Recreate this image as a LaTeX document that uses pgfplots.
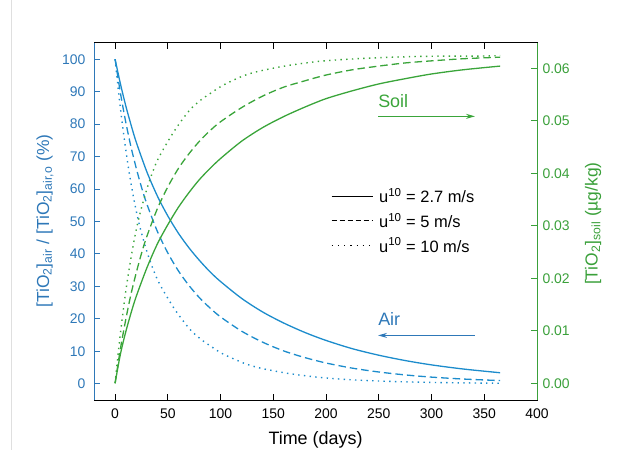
\documentclass[border=0pt]{standalone}
\usepackage{fontspec}
\setmainfont{Liberation Sans}
\usepackage{pgfplots}
\pgfplotsset{compat=1.18}
\usetikzlibrary{arrows.meta}
\definecolor{lblue}{RGB}{28,140,204}
\definecolor{ablue}{RGB}{46,120,184}
\definecolor{lgreen}{RGB}{58,165,58}
\definecolor{agreen}{RGB}{58,160,58}
\pgfplotsset{
  myframe/.style={at={(94bp,50bp)}, anchor=south west, scale only axis,
    width=443bp, height=357bp, xmin=-20, xmax=400,
    tick align=inside, major tick length=6bp,
    /pgf/number format/assume math mode=true,
    tick label style={font=\fontsize{14}{16}\selectfont}},
}
\begin{document}
\begin{tikzpicture}
\useasboundingbox (0,0) rectangle (622bp,450bp);
\draw[gray!25, line width=1bp] (11bp,0) -- (11bp,450bp);
% black box with x ticks on top and bottom
\begin{axis}[myframe, ymin=0, ymax=1,
  xtick={0,50,...,400}, xticklabels={}, xtick pos=both,
  ytick=\empty, clip=false,
  axis line style={black, line width=1bp},
  xtick style={black, line width=1bp}]
\addplot[draw=none, forget plot] coordinates {(0,0.5)};
\draw[black, line width=1bp] (rel axis cs:0,1) -- (rel axis cs:1,1);
\end{axis}
\begin{axis}[myframe,
  ymin=-5, ymax=105,
  axis x line*=bottom, axis y line*=left,
  xtick={0,50,...,400}, ytick={0,10,...,100},
  x axis line style={black, line width=1bp},
  y axis line style={ablue, line width=1bp},
  xtick style={black, line width=1bp},
  ytick style={ablue, line width=1bp},
  yticklabel style={text=ablue, xshift=-5bp},
  xticklabel style={yshift=-5bp},
  xlabel={Time (days)},
  xlabel style={at={(axis description cs:0.5,-0.126)}, anchor=base, font=\fontsize{18}{20}\selectfont},
  ylabel={[TiO\textsubscript{2}]\textsubscript{air} / [TiO\textsubscript{2}]\textsubscript{air,o} (\%)},
  ylabel style={at={(axis description cs:-0.1106,0.501)}, anchor=center, text=ablue, font=\fontsize{17.5}{20}\selectfont},
  legend style={at={(axis description cs:0.535,0.5994)}, anchor=north west, draw=none, fill=none,
    inner sep=0pt, row sep=5bp, font=\fontsize{16.5}{19}\selectfont},
  legend cell align=left,
  legend image code/.code={\draw[#1] (0bp,0bp) -- (41bp,0bp); \path (45bp,0bp);},
]
\addlegendimage{black, line width=1bp}
\addlegendentry{u\textsuperscript{10} = 2.7 m/s}
\addlegendimage{black, line width=1bp, dash pattern=on 5bp off 3bp}
\addlegendentry{u\textsuperscript{10} = 5 m/s}
\addlegendimage{black, line width=1bp, dash pattern=on 1.2bp off 5bp}
\addlegendentry{u\textsuperscript{10} = 10 m/s}
% Air, u10 = 2.7
\addplot[lblue, line width=1.3bp, smooth, tension=0.5, forget plot] coordinates {
(0,100)(5,92.5)(10,85.8)(15,79.9)(20,74.5)(30,65.4)(40,57.9)(50,51.7)(60,46.4)(70,41.9)
(80,38.0)(90,34.5)(100,31.5)(120,26.3)(140,22.1)(160,18.7)(180,15.8)(200,13.35)
(225,10.8)(250,8.8)(275,7.16)(300,5.82)(330,4.55)(365,3.4)};
% Air, u10 = 5
\addplot[lblue, line width=1.3bp, smooth, tension=0.5, dash pattern=on 7.5bp off 4bp, forget plot] coordinates {
(0,100)(5,89.7)(10,80.8)(15,73.1)(20,66.5)(25,60.6)(30,55.5)(40,47.0)(50,40.3)(60,34.8)
(70,30.3)(80,26.5)(90,23.35)(100,20.6)(120,16.2)(140,12.8)(160,10.1)(180,8.06)(200,6.4)
(225,4.81)(250,3.63)(275,2.73)(300,2.05)(330,1.46)(365,0.98)};
% Air, u10 = 10
\addplot[lblue, line width=1.4bp, smooth, tension=0.5, dash pattern=on 1.4bp off 4.3bp, forget plot] coordinates {
(0,100)(2.5,92.2)(5,85.0)(7.5,78.4)(10,72.4)(12.5,66.9)(15,61.9)(17.5,57.4)(20,53.3)
(22.5,49.7)(25,46.5)(30,40.9)(35,36.2)(40,32.2)(46.4,28.3)(56,23.2)(64,19.6)(72,16.4)
(81,13.8)(91,11.5)(101,9.4)(113,7.6)(125,6.0)(138,4.8)(155,3.7)(170,2.9)(193,2.0)
(220,1.3)(250,0.85)(280,0.55)(310,0.36)(340,0.24)(365,0.17)};
\node[anchor=base west, text=lgreen, font=\fontsize{18}{20}\selectfont, inner sep=0pt] at (axis cs:249.3,85.0) {Soil};
\draw[lgreen, line width=1bp, -{Stealth[length=9bp,width=5bp]}] (axis cs:249.3,82.4) -- (axis cs:341.2,82.4);
\node[anchor=base west, text=ablue, font=\fontsize{18}{20}\selectfont, inner sep=0pt] at (axis cs:249.3,18.0) {Air};
\draw[ablue, line width=1bp, -{Stealth[length=9bp,width=5bp]}] (axis cs:341.2,14.9) -- (axis cs:249.3,14.9);
\end{axis}
\begin{axis}[myframe,
  ymin=-0.0032, ymax=0.0648,
  axis x line=none, axis y line*=right,
  ytick={0,0.01,...,0.061},
  y axis line style={agreen, line width=1bp},
  ytick style={agreen, line width=1bp},
  scaled y ticks=false,
  /pgf/number format/.cd, fixed, fixed zerofill, precision=2,
  /pgfplots/.cd,
  yticklabel style={text=agreen, xshift=2bp},
  ylabel={[TiO\textsubscript{2}]\textsubscript{soil} (µg/kg)},
  ylabel style={at={(axis description cs:1.1264,0.494)}, anchor=center, rotate=0, text=agreen, font=\fontsize{17.5}{20}\selectfont},
]
% Soil, u10 = 2.7
\addplot[lgreen, line width=1.3bp, smooth, tension=0.5] coordinates {
(0,0)(5,0.0055)(10,0.0097)(15,0.0133)(20,0.0165)(30,0.0219)(40,0.0265)(50,0.0302)
(60,0.0335)(70,0.0363)(80,0.0388)(90,0.0409)(100,0.0428)(120,0.0461)(140,0.0487)
(160,0.0508)(180,0.0526)(200,0.0542)(225,0.0557)(250,0.0570)(275,0.0580)(300,0.0589)
(330,0.0597)(365,0.0604)};
% Soil, u10 = 5
\addplot[lgreen, line width=1.3bp, smooth, tension=0.5, dash pattern=on 7.5bp off 4bp] coordinates {
(0,0)(5,0.0065)(10,0.0120)(15,0.0169)(20,0.0210)(25,0.0247)(30,0.0279)(40,0.0332)
(50,0.0374)(60,0.0409)(70,0.0437)(80,0.0461)(90,0.0481)(100,0.0498)(120,0.0525)
(140,0.0547)(160,0.0564)(180,0.0576)(200,0.0587)(225,0.0597)(250,0.0604)(275,0.0610)
(300,0.0614)(330,0.0618)(365,0.0621)};
% Soil, u10 = 10
\addplot[lgreen, line width=1.4bp, smooth, tension=0.5, dash pattern=on 1.4bp off 4.3bp] coordinates {
(0,0)(2.5,0.0049)(5,0.0094)(7.5,0.0135)(10,0.0173)(12.5,0.0207)(15,0.0238)(17.5,0.0266)
(20,0.0292)(22.5,0.0314)(25,0.0334)(30,0.0369)(35,0.0399)(40,0.0424)(46.4,0.0448)
(56,0.0480)(64,0.0503)(72,0.0523)(81,0.0539)(91,0.0553)(101,0.0566)(113,0.0578)
(125,0.0588)(138,0.0595)(155,0.0602)(170,0.0607)(193,0.0613)(220,0.0617)(250,0.0620)
(280,0.0622)(310,0.0623)(340,0.0623)(365,0.0624)};
\end{axis}
\end{tikzpicture}
\end{document}
